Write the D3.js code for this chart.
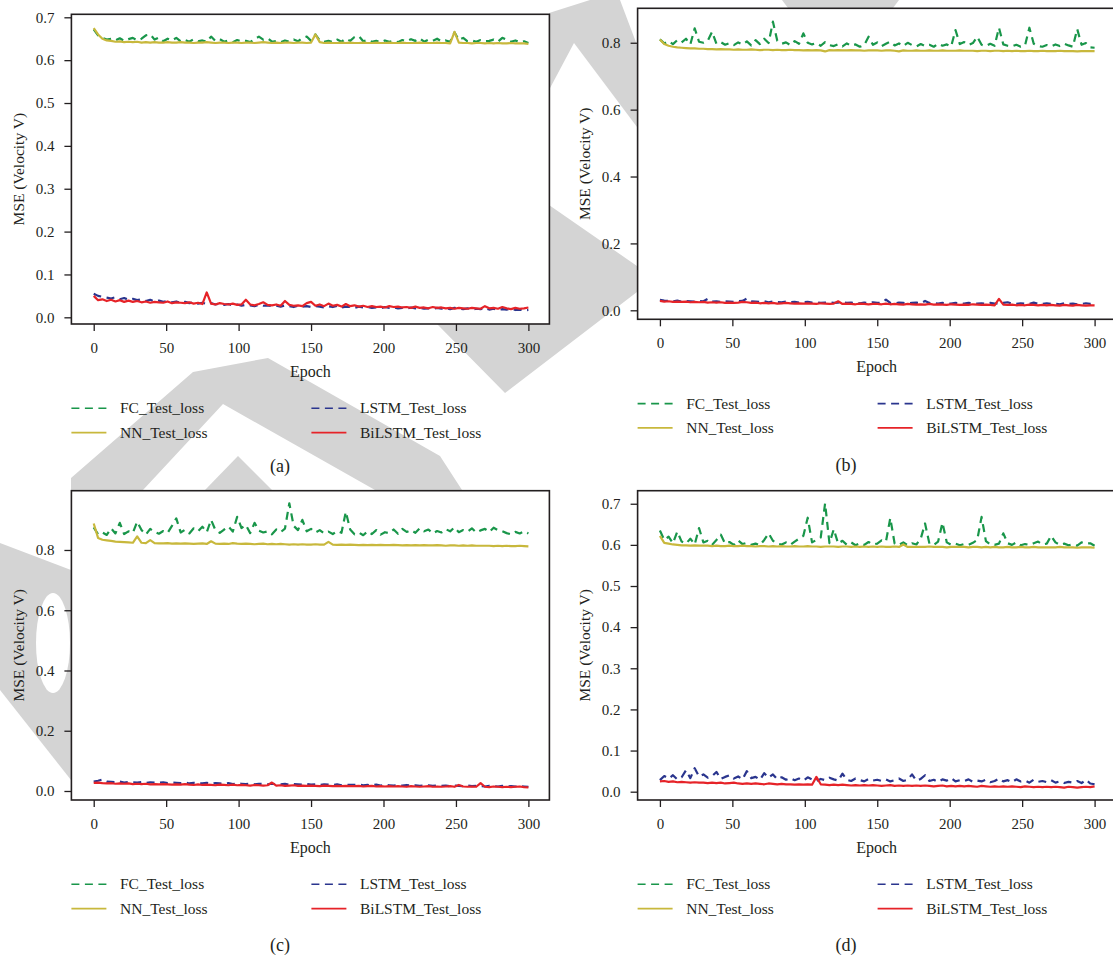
<!DOCTYPE html>
<html>
<head>
<meta charset="utf-8">
<script src="https://cdn.jsdelivr.net/npm/d3@7"></script>
<style>
  body { margin: 0; background: #fff; }
  svg { display: block; }
</style>
</head>
<body>
<svg id="chart" width="1113" height="959"></svg>
<script>
// Test loss per model, recorded every 3 epochs (0, 3, ..., 300)
const epochs = d3.range(0, 301, 3);
const xTicks = [0, 50, 100, 150, 200, 250, 300];
const seriesNames = ["FC_Test_loss", "NN_Test_loss", "LSTM_Test_loss", "BiLSTM_Test_loss"];
const panelLabels = ["(a)", "(b)", "(c)", "(d)"];
const yTicksFine = [0, 0.1, 0.2, 0.3, 0.4, 0.5, 0.6, 0.7];
const yTicksCoarse = [0, 0.2, 0.4, 0.6, 0.8];

// (a)
const fcA = [
  .672,.658,.652,.648,.650,.646,.651,.645,.649,.652,
  .646,.650,.658,.660,.648,.653,.644,.650,.646,.652,
  .644,.647,.643,.649,.644,.646,.643,.655,.645,.649,
  .643,.646,.642,.647,.644,.645,.642,.649,.655,.648,
  .651,.643,.645,.642,.646,.643,.648,.644,.652,.655,
  .645,.660,.646,.643,.645,.642,.648,.643,.650,.645,
  .654,.656,.644,.647,.643,.645,.642,.646,.643,.645,
  .642,.647,.644,.649,.645,.651,.643,.648,.645,.650,
  .644,.646,.643,.665,.647,.652,.644,.646,.643,.647,
  .644,.645,.648,.643,.652,.648,.643,.646,.642,.644,
  .640];
const nnA = [
  .675,.660,.650,.646,.645,.643,.644,.642,.643,.642,
  .643,.641,.642,.641,.642,.641,.641,.642,.641,.641,
  .642,.641,.641,.640,.641,.641,.642,.641,.640,.641,
  .641,.640,.641,.641,.640,.641,.641,.640,.641,.642,
  .641,.640,.641,.640,.641,.641,.640,.641,.641,.640,
  .641,.660,.642,.640,.641,.640,.640,.641,.640,.641,
  .640,.640,.641,.640,.640,.641,.640,.640,.641,.640,
  .640,.641,.640,.640,.640,.641,.640,.640,.640,.641,
  .640,.640,.639,.666,.641,.640,.640,.639,.640,.640,
  .639,.640,.639,.640,.639,.639,.640,.639,.639,.639,
  .638];
const lstmA = [
  .055,.050,.048,.046,.044,.047,.042,.045,.041,.043,
  .040,.042,.038,.041,.037,.039,.036,.038,.035,.037,
  .034,.036,.033,.035,.032,.034,.031,.033,.030,.032,
  .029,.031,.028,.030,.027,.029,.028,.026,.029,.027,
  .028,.026,.027,.025,.028,.026,.024,.027,.025,.026,
  .024,.026,.025,.023,.026,.024,.027,.023,.025,.024,
  .022,.025,.023,.024,.022,.023,.021,.024,.022,.023,
  .021,.022,.020,.023,.021,.022,.020,.021,.019,.022,
  .020,.021,.019,.022,.020,.019,.021,.018,.020,.019,
  .022,.018,.020,.017,.019,.018,.020,.017,.018,.016,
  .017];
const bilstmA = [
  .050,.040,.042,.038,.041,.037,.040,.036,.039,.036,
  .038,.035,.037,.034,.036,.035,.034,.037,.033,.035,
  .034,.033,.035,.032,.034,.031,.058,.032,.030,.033,
  .031,.030,.032,.029,.030,.041,.030,.028,.031,.035,
  .029,.028,.030,.027,.038,.029,.027,.028,.026,.033,
  .036,.027,.030,.026,.032,.027,.029,.025,.031,.026,
  .028,.025,.027,.024,.026,.024,.025,.023,.026,.024,
  .025,.023,.024,.022,.025,.022,.023,.021,.024,.022,
  .023,.021,.022,.020,.022,.021,.020,.022,.021,.020,
  .026,.021,.022,.020,.024,.021,.019,.022,.020,.021,
  .023];

// (b)
const fcB = [
  .810,.798,.805,.796,.808,.801,.812,.795,.843,.803,
  .800,.806,.833,.797,.802,.794,.799,.793,.801,.795,
  .804,.792,.808,.796,.812,.799,.863,.806,.797,.801,
  .793,.805,.797,.828,.800,.795,.799,.791,.802,.793,
  .790,.796,.789,.798,.791,.795,.788,.793,.818,.794,
  .801,.790,.797,.803,.792,.798,.790,.800,.793,.789,
  .796,.790,.794,.788,.797,.791,.795,.789,.838,.796,
  .802,.793,.799,.818,.794,.790,.797,.791,.845,.795,
  .791,.789,.794,.788,.792,.845,.797,.790,.788,.793,
  .789,.795,.790,.797,.792,.788,.841,.794,.799,.786,
  .785];
const nnB = [
  .810,.796,.791,.788,.786,.785,.784,.783,.783,.782,
  .782,.781,.781,.780,.781,.780,.780,.779,.780,.779,
  .779,.780,.779,.778,.779,.779,.778,.779,.778,.778,
  .779,.778,.778,.777,.778,.777,.778,.777,.774,.778,
  .777,.778,.777,.777,.778,.777,.777,.776,.777,.777,
  .777,.776,.777,.777,.776,.774,.777,.776,.776,.777,
  .776,.776,.777,.776,.776,.777,.776,.776,.776,.777,
  .776,.776,.776,.775,.776,.776,.775,.776,.776,.775,
  .776,.775,.776,.775,.775,.776,.775,.775,.776,.775,
  .775,.775,.776,.775,.775,.775,.774,.775,.775,.775,
  .775];
const lstmB = [
  .031,.029,.028,.027,.029,.026,.028,.027,.026,.028,
  .027,.034,.026,.027,.025,.027,.026,.025,.027,.028,
  .035,.027,.026,.025,.027,.024,.026,.025,.024,.026,
  .024,.025,.023,.024,.025,.023,.024,.022,.023,.024,
  .022,.023,.024,.022,.023,.022,.021,.023,.022,.024,
  .022,.023,.032,.022,.021,.023,.022,.021,.022,.023,
  .021,.028,.022,.021,.020,.022,.021,.020,.022,.021,
  .020,.022,.021,.020,.021,.020,.022,.020,.021,.022,
  .024,.020,.019,.021,.020,.019,.023,.020,.019,.021,
  .019,.020,.018,.021,.019,.020,.018,.019,.021,.019,
  .022];
const bilstmB = [
  .028,.026,.027,.025,.026,.025,.026,.024,.025,.024,
  .025,.023,.024,.023,.024,.022,.023,.022,.023,.025,
  .024,.022,.023,.021,.022,.021,.022,.020,.021,.022,
  .021,.020,.021,.020,.021,.020,.019,.021,.020,.019,
  .020,.027,.019,.020,.019,.018,.020,.019,.018,.019,
  .019,.018,.020,.018,.019,.018,.017,.019,.018,.017,
  .018,.017,.019,.017,.018,.017,.016,.018,.017,.016,
  .017,.016,.018,.017,.016,.017,.016,.015,.034,.017,
  .016,.017,.015,.016,.015,.017,.016,.015,.016,.015,
  .016,.015,.014,.016,.015,.014,.016,.015,.014,.015,
  .015];

// (c)
const fcC = [
  .875,.852,.858,.850,.872,.855,.890,.853,.862,.857,
  .894,.866,.851,.870,.860,.854,.863,.857,.880,.905,
  .858,.867,.855,.872,.862,.877,.859,.900,.866,.857,
  .868,.878,.861,.910,.873,.883,.856,.890,.864,.858,
  .862,.852,.868,.859,.871,.955,.880,.866,.900,.862,
  .870,.858,.866,.855,.861,.853,.863,.857,.927,.868,
  .852,.858,.849,.862,.853,.866,.851,.859,.856,.868,
  .854,.870,.860,.866,.857,.872,.862,.868,.855,.863,
  .858,.869,.862,.875,.859,.866,.861,.872,.858,.865,
  .870,.860,.874,.866,.862,.856,.852,.860,.855,.862,
  .855];
const nnC = [
  .888,.840,.834,.832,.830,.828,.827,.826,.825,.824,
  .845,.824,.823,.833,.823,.822,.822,.823,.821,.822,
  .821,.822,.821,.820,.821,.822,.820,.829,.821,.820,
  .821,.820,.823,.821,.820,.821,.820,.819,.820,.821,
  .819,.820,.819,.820,.819,.818,.819,.818,.819,.818,
  .818,.819,.818,.818,.827,.818,.817,.818,.817,.818,
  .817,.816,.817,.816,.817,.816,.817,.816,.816,.817,
  .816,.815,.816,.815,.816,.815,.816,.815,.815,.816,
  .815,.814,.815,.815,.814,.815,.814,.815,.814,.814,
  .814,.814,.813,.814,.813,.814,.813,.813,.814,.813,
  .812];
const lstmC = [
  .031,.034,.038,.031,.030,.029,.031,.028,.030,.029,
  .028,.030,.027,.029,.028,.027,.029,.026,.028,.027,
  .026,.028,.025,.027,.026,.025,.027,.024,.026,.025,
  .024,.026,.023,.025,.024,.023,.025,.022,.024,.023,
  .022,.024,.023,.022,.024,.021,.023,.022,.021,.023,
  .021,.022,.020,.022,.021,.020,.022,.019,.021,.020,
  .020,.021,.019,.020,.019,.021,.018,.020,.019,.018,
  .019,.018,.020,.018,.019,.017,.018,.019,.017,.018,
  .017,.018,.016,.018,.017,.016,.018,.016,.017,.016,
  .015,.017,.016,.015,.017,.015,.016,.015,.016,.015,
  .014];
const bilstmC = [
  .027,.028,.026,.025,.026,.024,.025,.024,.025,.023,
  .024,.023,.024,.022,.023,.022,.023,.022,.021,.022,
  .021,.023,.021,.020,.022,.020,.021,.020,.019,.021,
  .020,.019,.021,.019,.020,.019,.018,.020,.019,.018,
  .019,.028,.018,.019,.017,.018,.019,.017,.018,.017,
  .018,.017,.016,.018,.017,.016,.017,.016,.017,.016,
  .016,.017,.015,.016,.017,.015,.016,.015,.016,.015,
  .016,.015,.014,.016,.015,.014,.015,.016,.014,.015,
  .014,.015,.016,.014,.020,.015,.014,.015,.014,.026,
  .014,.013,.015,.014,.013,.014,.013,.014,.015,.013,
  .012];

// (d)
const fcD = [
  .635,.612,.620,.604,.632,.608,.603,.615,.601,.641,
  .606,.610,.600,.612,.625,.603,.607,.600,.611,.602,
  .605,.600,.603,.599,.612,.628,.610,.603,.601,.606,
  .600,.608,.615,.622,.666,.606,.612,.618,.701,.604,
  .638,.603,.610,.600,.606,.599,.604,.600,.607,.601,
  .603,.611,.608,.665,.603,.600,.606,.599,.604,.601,
  .615,.652,.603,.600,.608,.654,.606,.600,.603,.599,
  .602,.600,.605,.612,.668,.609,.601,.600,.603,.628,
  .604,.600,.606,.599,.602,.600,.604,.608,.601,.603,
  .622,.606,.600,.603,.599,.601,.598,.606,.603,.604,
  .598];
const nnD = [
  .622,.605,.603,.601,.600,.599,.599,.598,.599,.598,
  .598,.598,.597,.598,.597,.597,.598,.597,.597,.598,
  .597,.597,.596,.597,.597,.596,.597,.596,.597,.596,
  .596,.597,.596,.596,.597,.596,.596,.595,.596,.596,
  .596,.595,.596,.596,.595,.596,.595,.596,.595,.596,
  .595,.596,.595,.595,.596,.595,.601,.595,.595,.595,
  .595,.595,.596,.595,.595,.595,.594,.595,.595,.595,
  .595,.594,.595,.595,.594,.595,.594,.595,.594,.594,
  .595,.594,.594,.595,.594,.594,.595,.594,.594,.594,
  .594,.594,.595,.594,.594,.594,.593,.594,.594,.594,
  .593];
const lstmD = [
  .028,.038,.032,.040,.030,.035,.052,.033,.057,.037,
  .042,.034,.038,.048,.031,.036,.040,.032,.037,.030,
  .050,.033,.036,.029,.045,.034,.042,.030,.035,.029,
  .033,.028,.032,.027,.035,.030,.026,.031,.028,.034,
  .030,.027,.044,.029,.026,.032,.028,.025,.031,.027,
  .029,.026,.030,.025,.028,.032,.026,.029,.042,.027,
  .031,.040,.026,.029,.024,.030,.027,.033,.025,.028,
  .026,.030,.024,.027,.025,.029,.023,.026,.032,.025,
  .028,.023,.030,.025,.027,.022,.029,.024,.026,.023,
  .028,.022,.025,.021,.024,.022,.026,.021,.029,.020,
  .018];
const bilstmD = [
  .025,.026,.024,.025,.023,.024,.023,.022,.023,.022,
  .022,.021,.022,.021,.022,.020,.021,.022,.020,.019,
  .020,.019,.020,.019,.018,.020,.019,.018,.019,.018,
  .018,.017,.018,.017,.018,.017,.036,.018,.017,.016,
  .017,.016,.017,.016,.015,.016,.015,.016,.015,.016,
  .015,.014,.015,.016,.014,.015,.014,.015,.014,.015,
  .014,.015,.014,.013,.014,.015,.013,.014,.013,.014,
  .013,.014,.013,.012,.014,.013,.012,.013,.012,.013,
  .012,.013,.012,.011,.013,.012,.011,.012,.011,.012,
  .011,.012,.011,.010,.012,.011,.010,.011,.012,.011,
  .013];

// ---- styling and layout ----
const FONT = '"Liberation Serif", "Times New Roman", Times, "DejaVu Serif", serif';
const INK = "#231f20";
const seriesStyle = [
  { color: "#19964a", dash: "8,5.5" },
  { color: "#c8b83c", dash: null },
  { color: "#2a358e", dash: "8,5.5" },
  { color: "#e62328", dash: null }
];

const panels = [
  { x0: 71.4,  y0: 14.3,  w: 478, h: 309.7, yDomain: [-0.0156, 0.707],  yTicks: yTicksFine,
    series: [fcA, nnA, lstmA, bilstmA], tagX: 280, tagY: 466 },
  { x0: 637.6, y0: 8.3,   w: 478, h: 311,   yDomain: [-0.0269, 0.903],  yTicks: yTicksCoarse,
    series: [fcB, nnB, lstmB, bilstmB], tagX: 846, tagY: 465 },
  { x0: 71.4,  y0: 490.7, w: 478, h: 309.3, yDomain: [-0.0299, 0.9968], yTicks: yTicksCoarse,
    series: [fcC, nnC, lstmC, bilstmC], tagX: 280, tagY: 945 },
  { x0: 637.6, y0: 490.7, w: 478, h: 309.3, yDomain: [-0.0202, 0.7317], yTicks: yTicksFine,
    series: [fcD, nnD, lstmD, bilstmD], tagX: 846, tagY: 945 }
];
const xDomain = [-15.4, 314.5];

// light grey page stamp behind the panels
const stampShapes = [
  [[71,490],[71,478],[193,372],[268,358],[440,456],[462,490],[375,490],[223,404],[143,490]],
  [[205,490],[238,456],[272,490]],
  [[549,205],[637,266],[637,292],[505,393],[437,324],[549,324]],
  [[549,13],[590,0],[620,0],[637,45],[637,127],[574,43],[549,90]],
  [[782,0],[899,0],[893,8],[788,8]],
  [[0,543],[71,570],[71,780],[0,690]]
];

const svg = d3.select("#chart").attr("font-family", FONT);

const stamp = svg.append("g").attr("class", "stamp");
stamp.selectAll("polygon").data(stampShapes).join("polygon")
  .attr("points", d => d.map(p => p.join(",")).join(" "))
  .attr("fill", "#d4d4d4");
stamp.append("ellipse").attr("cx", 53).attr("cy", 643).attr("rx", 17).attr("ry", 50).attr("fill", "#fff");

function label(sel) {
  return sel.attr("font-family", FONT).attr("fill", INK);
}

panels.forEach((p, pi) => {
  const g = svg.append("g");
  const x = d3.scaleLinear().domain(xDomain).range([p.x0, p.x0 + p.w]);
  const y = d3.scaleLinear().domain(p.yDomain).range([p.y0 + p.h, p.y0]);

  g.append("rect").attr("x", p.x0).attr("y", p.y0).attr("width", p.w).attr("height", p.h).attr("fill", "#fff");

  const clipId = "clip" + pi;
  g.append("clipPath").attr("id", clipId).append("rect")
    .attr("x", p.x0).attr("y", p.y0).attr("width", p.w).attr("height", p.h);

  const line = d3.line().x((d, i) => x(epochs[i])).y(d => y(d));
  const lines = g.append("g").attr("clip-path", `url(#${clipId})`);
  p.series.forEach((vals, si) => {
    lines.append("path")
      .attr("d", line(vals))
      .attr("fill", "none")
      .attr("stroke", seriesStyle[si].color)
      .attr("stroke-width", 2.2)
      .attr("stroke-linejoin", "round")
      .attr("stroke-dasharray", seriesStyle[si].dash);
  });

  g.append("rect").attr("x", p.x0).attr("y", p.y0).attr("width", p.w).attr("height", p.h)
    .attr("fill", "none").attr("stroke", INK).attr("stroke-width", 1.6);

  const xAxis = g.append("g").attr("transform", `translate(0,${p.y0 + p.h})`)
    .call(d3.axisBottom(x).tickValues(xTicks).tickSize(7).tickPadding(11));
  const yAxis = g.append("g").attr("transform", `translate(${p.x0},0)`)
    .call(d3.axisLeft(y).tickValues(p.yTicks).tickFormat(d3.format(".1f")).tickSize(7).tickPadding(10));
  [xAxis, yAxis].forEach(a => {
    a.attr("font-family", FONT).attr("font-size", 15);
    a.select(".domain").remove();
    a.selectAll(".tick line").attr("stroke", INK).attr("stroke-width", 1.3);
    a.selectAll(".tick text").attr("fill", INK);
  });

  label(g.append("text"))
    .attr("x", p.x0 + p.w / 2).attr("y", p.y0 + p.h + 47).attr("dy", "0.35em")
    .attr("text-anchor", "middle").attr("font-size", 16).text("Epoch");

  label(g.append("text"))
    .attr("transform", `translate(${p.x0 - 52.8},${p.y0 + p.h / 2}) rotate(-90)`)
    .attr("dy", "0.35em").attr("text-anchor", "middle").attr("font-size", 15.5)
    .text("MSE (Velocity V)");

  // legend: two columns, two rows
  seriesNames.forEach((name, si) => {
    const col = si < 2 ? 0 : 1;
    const row = si % 2;
    const lx = p.x0 + col * 240;
    const ly = p.y0 + p.h + 84.3 + row * 24.3;
    g.append("line").attr("x1", lx).attr("x2", lx + 35).attr("y1", ly).attr("y2", ly)
      .attr("stroke", seriesStyle[si].color).attr("stroke-width", 1.6)
      .attr("stroke-dasharray", seriesStyle[si].dash);
    label(g.append("text")).attr("x", lx + 48.6).attr("y", ly).attr("dy", "0.33em")
      .attr("font-size", 15.5).text(name);
  });

  label(g.append("text")).attr("x", p.tagX).attr("y", p.tagY).attr("dy", "0.35em")
    .attr("text-anchor", "middle").attr("font-size", 18).text(panelLabels[pi]);
});
</script>
</body>
</html>
